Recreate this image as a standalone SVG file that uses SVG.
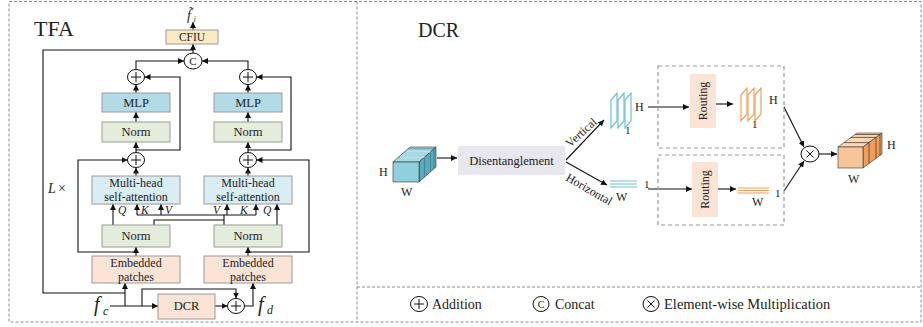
<svg xmlns="http://www.w3.org/2000/svg" xmlns:xlink="http://www.w3.org/1999/xlink" width="923" height="327" viewBox="0 0 923 327">
<style>
  text { font-family: "Liberation Serif", "Times New Roman", serif; fill: #222; }
  .t { font-size: 12.5px; text-anchor: middle; }
  .t2 { font-size: 12px; text-anchor: middle; }
  .it { font-style: italic; }
  .box { stroke: #9a9a9a; stroke-width: 1; }
  .mlp { fill: #b3dbe6; }
  .norm { fill: #e4eddb; }
  .mhsa { fill: #d9edf4; }
  .emb { fill: #fbe4d6; }
  .cfiu { fill: #fde9c3; }
  .rout { fill: #fbe4d6; stroke: none; }
  .dash { fill: none; stroke: #8a8a8a; stroke-width: 1; stroke-dasharray: 3 2; }
  .dbox { fill: none; stroke: #9a9a9a; stroke-width: 1.2; stroke-dasharray: 4 3; }
  .ln { fill: none; stroke: #111; stroke-width: 1.1; }
  .arr { fill: none; stroke: #111; stroke-width: 1.1; marker-end: url(#ah); }
  .op { fill: #fff; stroke: #111; stroke-width: 1; }
  .sym { fill: none; stroke: #111; stroke-width: 1; }
</style>
<defs>
  <marker id="ah" viewBox="0 0 6 6" refX="6" refY="3" markerWidth="6" markerHeight="6" markerUnits="userSpaceOnUse" orient="auto">
    <path d="M0,0 L6,3 L0,6 z" fill="#111"/>
  </marker>
  <g id="plus"><ellipse class="op" cx="0" cy="0" rx="8.5" ry="7.5"/><path class="sym" d="M-5,0 H5 M0,-5 V5"/></g>
</defs>

<!-- frames -->
<g id="frames">
  <rect class="dash" x="9" y="1.5" width="912" height="320.5"/>
  <line class="dash" x1="357" y1="1.5" x2="357" y2="322"/>
  <line class="dash" x1="357" y1="287" x2="921" y2="287"/>
</g>

<!-- ============ TFA ============ -->
<text x="34" y="36" style="font-size:22px">TFA</text>
<text x="48" y="193" class="it" style="font-size:14px">L</text>
<text x="58" y="193" style="font-size:14px">×</text>

<g id="connectors">
  <!-- output -->
  <line class="arr" x1="193" y1="30" x2="193" y2="22"/>
  <line class="arr" x1="193" y1="53" x2="193" y2="44"/>
  <!-- outer L loop -->
  <polyline class="ln" points="125,293 43,293 43,50 193,50"/>
  <!-- top plus to concat -->
  <polyline class="arr" points="136,69.5 136,61 184,61"/>
  <polyline class="arr" points="248,69.5 248,61 202,61"/>
  <!-- left column -->
  <line class="arr" x1="136" y1="256" x2="136" y2="247"/>
  <line class="arr" x1="136" y1="176" x2="136" y2="167.5"/>
  <line class="arr" x1="136" y1="152.5" x2="136" y2="142"/>
  <line class="arr" x1="136" y1="122" x2="136" y2="112"/>
  <line class="arr" x1="136" y1="93" x2="136" y2="84.5"/>
  <polyline class="arr" points="136,150 180,150 180,77 144.5,77"/>
  <polyline class="arr" points="136,252 78,252 78,160 127.5,160"/>
  <!-- right column -->
  <line class="arr" x1="248" y1="256" x2="248" y2="247"/>
  <line class="arr" x1="248" y1="176" x2="248" y2="167.5"/>
  <line class="arr" x1="248" y1="152.5" x2="248" y2="142"/>
  <line class="arr" x1="248" y1="122" x2="248" y2="112"/>
  <line class="arr" x1="248" y1="93" x2="248" y2="84.5"/>
  <polyline class="arr" points="248,150 291,150 291,77 256.5,77"/>
  <polyline class="arr" points="248,252 309,252 309,160 256.5,160"/>
  <!-- Q K V -->
  <line class="arr" x1="113" y1="225" x2="113" y2="204"/>
  <line class="arr" x1="137" y1="215" x2="137" y2="204"/>
  <line class="arr" x1="161" y1="215" x2="161" y2="204"/>
  <line class="arr" x1="227" y1="215" x2="227" y2="204"/>
  <line class="arr" x1="256" y1="215" x2="256" y2="204"/>
  <line class="arr" x1="277" y1="225" x2="277" y2="204"/>
  <line class="ln" x1="137" y1="215" x2="256" y2="215"/>
  <polyline class="ln" points="154,225 154,220 224,220"/>
  <line class="ln" x1="224" y1="215" x2="224" y2="225"/>
  <!-- bottom -->
  <line class="arr" x1="110" y1="306" x2="158" y2="306"/>
  <line class="arr" x1="125" y1="306" x2="125" y2="283"/>
  <polyline class="arr" points="142,306 142,289 236,289 236,298.5"/>
  <line class="arr" x1="215" y1="306" x2="227.5" y2="306"/>
  <polyline class="arr" points="244.5,306 253,306 253,283"/>
  <!-- DCR panel -->
  <line class="arr" x1="437" y1="158" x2="457" y2="158"/>
  <line class="arr" x1="566" y1="160" x2="604" y2="120"/>
  <line class="arr" x1="566" y1="162" x2="607" y2="185"/>
  <line class="arr" x1="648" y1="107" x2="689" y2="107"/>
  <line class="arr" x1="716" y1="104" x2="733" y2="104"/>
  <line class="arr" x1="648" y1="189" x2="692" y2="189"/>
  <line class="arr" x1="718" y1="189" x2="736" y2="189"/>
  <line class="arr" x1="784" y1="107" x2="804" y2="147"/>
  <line class="arr" x1="784" y1="191" x2="804" y2="161"/>
  <line class="arr" x1="819" y1="154" x2="837" y2="154"/>
</g>

<g id="fi_label">
  <text x="187" y="20" class="it" style="font-size:14px">f&#x303;</text>
  <text x="193.5" y="21.5" class="it" style="font-size:8px">i</text>
</g>
<g id="cfiu"><rect class="box cfiu" x="166" y="30" width="52" height="14"/><text class="t" x="192" y="41" style="font-size:11.5px">CFIU</text></g>
<g id="concat"><ellipse class="op" cx="193" cy="61" rx="9" ry="8"/><text class="t" x="193" y="65" style="font-size:11px">C</text></g>

<g id="plus_top_l"><use xlink:href="#plus" x="136" y="77"/></g>
<g id="plus_top_r"><use xlink:href="#plus" x="248" y="77"/></g>
<g id="mlp_l"><rect class="box mlp" x="102" y="93" width="68" height="19"/><text class="t" x="136" y="107">MLP</text></g>
<g id="mlp_r"><rect class="box mlp" x="214" y="93" width="68" height="19"/><text class="t" x="248" y="107">MLP</text></g>
<g id="norm1_l"><rect class="box norm" x="102" y="122" width="68" height="20"/><text class="t" x="136" y="136">Norm</text></g>
<g id="norm1_r"><rect class="box norm" x="214" y="122" width="68" height="20"/><text class="t" x="248" y="136">Norm</text></g>
<g id="plus_mid_l"><use xlink:href="#plus" x="136" y="160"/></g>
<g id="plus_mid_r"><use xlink:href="#plus" x="248" y="160"/></g>
<g id="mhsa_l"><rect class="box mhsa" x="92" y="176" width="88" height="28"/><text class="t2" x="136" y="187">Multi-head</text><text class="t2" x="136" y="200.5">self-attention</text></g>
<g id="mhsa_r"><rect class="box mhsa" x="204" y="176" width="88" height="28"/><text class="t2" x="248" y="187">Multi-head</text><text class="t2" x="248" y="200.5">self-attention</text></g>
<g id="qkv_labels" class="it" style="font-size:11.5px">
  <text x="118" y="214">Q</text><text x="141" y="214">K</text><text x="165" y="214">V</text>
  <text x="213" y="214">V</text><text x="240" y="214">K</text><text x="263" y="214">Q</text>
</g>
<g id="norm2_l"><rect class="box norm" x="102" y="225" width="68" height="22"/><text class="t" x="136" y="240">Norm</text></g>
<g id="norm2_r"><rect class="box norm" x="214" y="225" width="68" height="22"/><text class="t" x="248" y="240">Norm</text></g>
<g id="emb_l"><rect class="box emb" x="92" y="256" width="88" height="27"/><text class="t2" x="136" y="267">Embedded</text><text class="t2" x="136" y="280.5">patches</text></g>
<g id="emb_r"><rect class="box emb" x="204" y="256" width="88" height="27"/><text class="t2" x="248" y="267">Embedded</text><text class="t2" x="248" y="280.5">patches</text></g>
<g id="fc_label"><text x="94" y="311" class="it" style="font-size:20px">f</text><text x="103" y="315" class="it" style="font-size:12px">c</text></g>
<g id="dcr_box"><rect class="box emb" x="158" y="294" width="57" height="25"/><text class="t" x="186.5" y="310">DCR</text></g>
<g id="plus_bottom"><use xlink:href="#plus" x="236" y="306"/></g>
<g id="fd_label"><text x="258" y="311" class="it" style="font-size:20px">f</text><text x="267" y="314" class="it" style="font-size:12px">d</text></g>

<!-- ============ DCR ============ -->
<text x="418" y="37" style="font-size:20px">DCR</text>

<g id="input_cube">
  <polygon points="393,162 410,147 436,147 419,162" fill="#a6dae4" stroke="#333" stroke-width="0.6"/>
  <polygon points="419,162 436,147 436,167 419,182" fill="#5aa9ba" stroke="#333" stroke-width="0.6"/>
  <rect x="393" y="162" width="26" height="20" fill="#8fd0dd" stroke="#333" stroke-width="0.6"/>
  <path d="M398.5,157.2 H424.5 V177.2 M404.5,151.9 H430.5 V171.9 M408,148.8 H434 V168.8" fill="none" stroke="#2f6f7c" stroke-width="0.6"/>
  <path d="M400,157.2 H424.5 M406,151.9 H430.5" fill="none" stroke="#d6f0f4" stroke-width="1.2"/>
  <text x="379" y="176" style="font-size:12px">H</text>
  <text x="401" y="196" style="font-size:12px">W</text>
</g>
<g id="disentangle"><rect x="458" y="146" width="107" height="29" fill="#e8e6ee"/><text class="t" x="511.5" y="165" style="font-size:12.5px">Disentanglement</text></g>
<text x="0" y="0" style="font-size:12px" transform="translate(570,148) rotate(-42)">Vertical</text>
<text x="0" y="0" style="font-size:12px" transform="translate(565,180) rotate(30)">Horizontal</text>

<g id="vert_slabs">
  <g fill="#fff" stroke="#6cc0d4" stroke-width="1.2">
    <polygon points="611,100 617,93 617,121 611,128"/>
    <polygon points="618,100 624,93 624,121 618,128"/>
    <polygon points="625,100 631,93 631,121 625,128"/>
  </g>
  <text x="635" y="111" style="font-size:12px">H</text>
  <text x="625" y="134" style="font-size:11px">1</text>
</g>
<g id="horiz_lines">
  <path d="M610,181 H637 M610,184 H637 M610,187 H637" stroke="#6cc0d4" stroke-width="1.2"/>
  <text x="644" y="188" style="font-size:11px">1</text>
  <text x="616" y="201" style="font-size:12px">W</text>
</g>

<g id="route_v">
  <rect class="dbox" x="658" y="66" width="126" height="82"/>
  <rect class="rout" x="690" y="74" width="26" height="54"/>
  <text class="t" x="0" y="0" style="font-size:12px" transform="translate(707,101) rotate(-90)">Routing</text>
  <g fill="#fff" stroke="#f0a060" stroke-width="1.2">
    <polygon points="741,95 747,88 747,114 741,121"/>
    <polygon points="748,95 754,88 754,114 748,121"/>
    <polygon points="755,95 761,88 761,114 755,121"/>
  </g>
  <text x="769" y="104" style="font-size:12px">H</text>
  <text x="752" y="128" style="font-size:11px">1</text>
</g>
<g id="route_h">
  <rect class="dbox" x="658" y="155" width="126" height="70"/>
  <rect class="rout" x="692" y="162" width="26" height="55"/>
  <text class="t" x="0" y="0" style="font-size:12px" transform="translate(709,189.5) rotate(-90)">Routing</text>
  <path d="M738,188 H769 M738,190.5 H769 M738,193 H769" stroke="#f0a060" stroke-width="1.2"/>
  <text x="752" y="206" style="font-size:12px">W</text>
  <text x="775" y="197" style="font-size:11px">1</text>
</g>
<g id="mult"><ellipse class="op" cx="810" cy="154" rx="9" ry="8"/><path class="sym" d="M806.5,150.5 L813.5,157.5 M813.5,150.5 L806.5,157.5"/></g>
<g id="output_cube">
  <polygon points="838,147 857,133 882,133 863,147" fill="#fbd8b8" stroke="#333" stroke-width="0.6"/>
  <polygon points="863,147 882,133 882,154 863,168" fill="#ef9e5e" stroke="#333" stroke-width="0.6"/>
  <rect x="838" y="147" width="25" height="21" fill="#f8c59b" stroke="#333" stroke-width="0.6"/>
  <path d="M844,142.6 H869 V163.6 M851,137.4 H876 V158.4 M855,134.5 H880 V155.5" fill="none" stroke="#5a3b22" stroke-width="0.8"/>
  <text x="887" y="149" style="font-size:12px">H</text>
  <text x="848" y="183" style="font-size:12px">W</text>
</g>

<!-- legend -->
<g id="legend" style="font-size:14px">
  <use xlink:href="#plus" x="419" y="304"/>
  <text x="432" y="309">Addition</text>
  <ellipse class="op" cx="541" cy="304" rx="8" ry="7.5"/>
  <text x="541" y="308" text-anchor="middle" style="font-size:10px">C</text>
  <text x="555" y="309">Concat</text>
  <ellipse class="op" cx="651" cy="304" rx="8" ry="7.5"/>
  <path class="sym" d="M647.5,300.5 L654.5,307.5 M654.5,300.5 L647.5,307.5"/>
  <text x="664" y="309" style="font-size:14.5px">Element-wise Multiplication</text>
</g>
</svg>
